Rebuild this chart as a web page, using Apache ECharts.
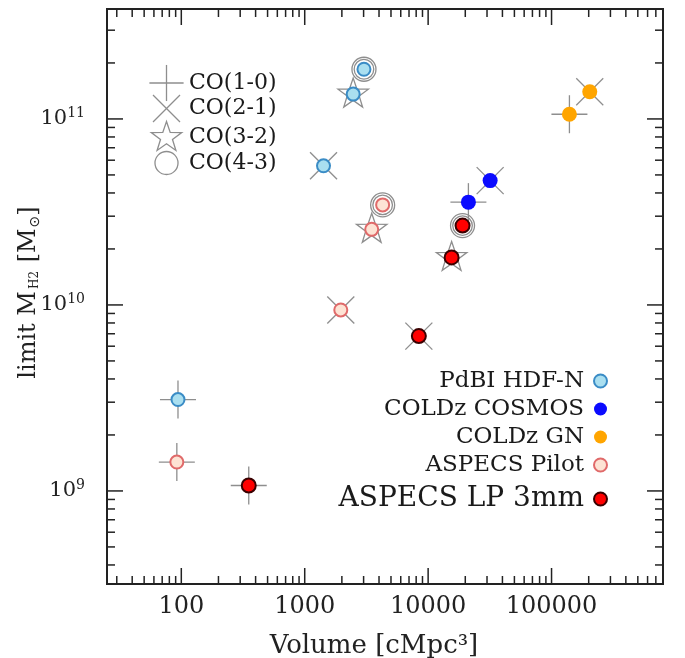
<!DOCTYPE html>
<html>
<head>
<meta charset="utf-8">
<script src="https://cdn.jsdelivr.net/npm/echarts@6/dist/echarts.min.js"></script>
<style>html,body{margin:0;padding:0;background:#fff;}#c{width:685px;height:658px;}</style>
</head>
<body>
<div id="c"></div>
<script>
// ---------- data ----------
const transitions = ['CO(1-0)', 'CO(2-1)', 'CO(3-2)', 'CO(4-3)'];

const pdbiVol   = [94, 1420, 2470, 3020];
const pdbiMass  = [3.1e9, 5.6e10, 1.36e11, 1.85e11];
const pdbiLine  = [0, 1, 2, 3];

const cosmosVol  = [21200, 31800];
const cosmosMass = [3.57e10, 4.66e10];
const cosmosLine = [0, 1];

const gnVol  = [139600, 204000];
const gnMass = [1.06e11, 1.40e11];
const gnLine = [0, 1];

const pilotVol  = [92, 1960, 3490, 4280];
const pilotMass = [1.43e9, 9.4e9, 2.55e10, 3.45e10];
const pilotLine = [0, 1, 2, 3];

const lpVol  = [352, 8410, 15500, 19000];
const lpMass = [1.07e9, 6.8e9, 1.80e10, 2.67e10];
const lpLine = [0, 1, 2, 3];

const surveyNames = ['PdBI HDF-N', 'COLDz COSMOS', 'COLDz GN', 'ASPECS Pilot', 'ASPECS LP 3mm'];

const xMin = 25, xMax = 8e5;
const yMin = 3.16e8, yMax = 3.9e11;
const xMajorTicks = [100, 1000, 10000, 100000];
const yMajorTicks = [1e9, 1e10, 1e11];

// ---------- helpers ----------
const FONT = 'DejaVu Serif';
const GRAY = '#8e8e8e';
function zip(v, m) { return v.map((x, i) => [x, m[i]]); }
function zip3(v, m, t) { return v.map((x, i) => [x, m[i], t[i]]); }
function minorTicks(lo, hi) {
  const out = [];
  for (let e = Math.floor(Math.log10(lo)); e <= Math.ceil(Math.log10(hi)); e++) {
    for (let k = 2; k <= 9; k++) {
      const v = k * Math.pow(10, e);
      if (v > lo && v < hi) out.push(v);
    }
  }
  return out;
}
function isPow10(v) {
  const e = Math.log10(v);
  return Math.abs(e - Math.round(e)) < 1e-6;
}
function starPoints(R, r) {
  const pts = [];
  for (let i = 0; i < 10; i++) {
    const rad = (i % 2 === 0) ? R : r;
    const a = -Math.PI / 2 + i * Math.PI / 5;
    pts.push([rad * Math.cos(a), rad * Math.sin(a)]);
  }
  return pts;
}
function symbolShapes(t, scale, rings) {
  const st = { stroke: GRAY, lineWidth: 1.3, fill: 'none' };
  if (t === 0) {
    const h = 18 * scale, v = 19 * scale;
    return [
      { type: 'line', shape: { x1: -h, y1: 0, x2: h, y2: 0 }, style: st },
      { type: 'line', shape: { x1: 0, y1: -v, x2: 0, y2: v }, style: st }
    ];
  }
  if (t === 1) {
    const d = 13.5 * scale;
    return [
      { type: 'line', shape: { x1: -d, y1: -d, x2: d, y2: d }, style: st },
      { type: 'line', shape: { x1: -d, y1: d, x2: d, y2: -d }, style: st }
    ];
  }
  if (t === 2) {
    return [{ type: 'polygon', shape: { points: starPoints(16 * scale, 6.3 * scale) }, style: st }];
  }
  const out = [{ type: 'circle', shape: { cx: 0, cy: 0, r: 12 * scale }, style: st }];
  if (rings) out.push({ type: 'circle', shape: { cx: 0, cy: 0, r: 9.8 * scale }, style: st });
  return out;
}

const allSymbols = [].concat(
  zip3(pdbiVol, pdbiMass, pdbiLine),
  zip3(cosmosVol, cosmosMass, cosmosLine),
  zip3(gnVol, gnMass, gnLine),
  zip3(pilotVol, pilotMass, pilotLine),
  zip3(lpVol, lpMass, lpLine)
);

const chart = echarts.init(document.getElementById('c'), null, { renderer: 'canvas' });

const TICK = '#222';
const option = {
  animation: false,
  backgroundColor: '#fff',
  grid: { left: 107, right: 22, top: 9, bottom: 74, outerBoundsMode: 'none', containLabel: false,
          show: true, borderColor: '#222', borderWidth: 2, backgroundColor: 'transparent' },
  xAxis: {
    type: 'log', logBase: 10, min: xMin, max: xMax,
    axisLine: { show: false }, axisTick: { show: false }, splitLine: { show: false },
    axisLabel: {
      margin: 11, fontFamily: FONT, fontSize: 24, color: '#222',
      formatter: v => isPow10(v) ? String(Math.round(v)) : ''
    },
    name: 'Volume [cMpc³]', nameLocation: 'middle', nameGap: 49, nameMoveOverlap: false,
    nameTextStyle: { fontFamily: FONT, fontSize: 26, color: '#222', padding: [0, 22, 0, 0] }
  },
  yAxis: {
    type: 'log', logBase: 10, min: yMin, max: yMax,
    axisLine: { show: false }, axisTick: { show: false }, splitLine: { show: false },
    axisLabel: {
      margin: 22, color: '#222',
      formatter: v => isPow10(v) ? '{b|10}{s|' + Math.round(Math.log10(v)) + '}' : '',
      rich: {
        b: { fontFamily: FONT, fontSize: 21, lineHeight: 26, color: '#222' },
        s: { fontFamily: FONT, fontSize: 14, lineHeight: 14, verticalAlign: 'top', color: '#222' }
      }
    },
    name: 'limit M{sub|H2} [M{sub2|⊙}]', nameLocation: 'middle', nameRotate: 90, nameGap: 64,
    nameMoveOverlap: false,
    nameTextStyle: {
      fontFamily: FONT, fontSize: 24, lineHeight: 28, color: '#222', padding: [0, 0, 0, 8],
      rich: {
        sub: { fontFamily: FONT, fontSize: 12, lineHeight: 12, verticalAlign: 'bottom', color: '#222', padding: [0, 1, 2, 2] },
        sub2: { fontFamily: 'DejaVu Sans', fontSize: 14, lineHeight: 14, verticalAlign: 'bottom', color: '#222', padding: [0, 0, 1, 1] }
      }
    }
  },
  legend: {
    orient: 'vertical', right: 77, top: 369, align: 'right', padding: 0,
    itemWidth: 13, itemHeight: 13, itemGap: 4, selectedMode: false, icon: 'circle',
    textStyle: { fontFamily: FONT, fontSize: 23, lineHeight: 24, color: '#1a1a1a', padding: [0, 5, 0, 0] },
    data: [
      { name: surveyNames[0] },
      { name: surveyNames[1] },
      { name: surveyNames[2] },
      { name: surveyNames[3] },
      { name: surveyNames[4], textStyle: { fontSize: 28, lineHeight: 36 } }
    ]
  },
  graphic: (function () {
    const els = [];
    const rowsY = [83, 108.5, 137.5, 163];
    transitions.forEach((t, i) => {
      els.push({
        type: 'group', x: 166.5, y: rowsY[i], silent: true,
        children: symbolShapes(i, i === 0 ? 0.95 : (i === 3 ? 0.96 : 1.0), false)
      });
      els.push({
        type: 'text', x: 189, y: rowsY[i], silent: true,
        style: { text: t, fontFamily: FONT, fontSize: 22, fill: '#1a1a1a', textVerticalAlign: 'middle', textAlign: 'left' }
      });
    });
    return els;
  })(),
  series: [
    {
      type: 'custom', name: 'xticks', silent: true, z: 1,
      data: xMajorTicks.map(v => [v, yMin, 1]).concat(minorTicks(xMin, xMax).map(v => [v, yMin, 0])),
      renderItem: function (params, api) {
        const cs = params.coordSys;
        const x = api.coord([api.value(0), yMin])[0];
        const len = api.value(2) ? 16 : 8;
        const st = { stroke: TICK, lineWidth: 1.5 };
        return { type: 'group', children: [
          { type: 'line', shape: { x1: x, y1: cs.y + cs.height, x2: x, y2: cs.y + cs.height - len }, style: st },
          { type: 'line', shape: { x1: x, y1: cs.y, x2: x, y2: cs.y + len }, style: st }
        ] };
      }
    },
    {
      type: 'custom', name: 'yticks', silent: true, z: 1,
      data: yMajorTicks.map(v => [xMin, v, 1]).concat(minorTicks(yMin, yMax).map(v => [xMin, v, 0])),
      renderItem: function (params, api) {
        const cs = params.coordSys;
        const y = api.coord([xMin, api.value(1)])[1];
        const len = api.value(2) ? 16 : 8;
        const st = { stroke: TICK, lineWidth: 1.5 };
        return { type: 'group', children: [
          { type: 'line', shape: { x1: cs.x, y1: y, x2: cs.x + len, y2: y }, style: st },
          { type: 'line', shape: { x1: cs.x + cs.width, y1: y, x2: cs.x + cs.width - len, y2: y }, style: st }
        ] };
      }
    },
    {
      type: 'custom', name: 'transitions', silent: true, z: 2,
      data: allSymbols,
      renderItem: function (params, api) {
        const p = api.coord([api.value(0), api.value(1)]);
        return { type: 'group', x: p[0], y: p[1], children: symbolShapes(api.value(2), 1, true) };
      }
    },
    {
      type: 'scatter', name: surveyNames[0], z: 3, data: zip(pdbiVol, pdbiMass), symbol: 'circle', symbolSize: 13,
      itemStyle: { color: '#aadff0', borderColor: '#3a8cc6', borderWidth: 2, opacity: 1 }, emphasis: { disabled: true }
    },
    {
      type: 'scatter', name: surveyNames[1], z: 3, data: zip(cosmosVol, cosmosMass), symbol: 'circle', symbolSize: 15,
      itemStyle: { color: '#0b0bff', borderColor: '#0b0bff', borderWidth: 0, opacity: 1 }, emphasis: { disabled: true }
    },
    {
      type: 'scatter', name: surveyNames[2], z: 3, data: zip(gnVol, gnMass), symbol: 'circle', symbolSize: 15,
      itemStyle: { color: '#ffa500', borderColor: '#ffa500', borderWidth: 0, opacity: 1 }, emphasis: { disabled: true }
    },
    {
      type: 'scatter', name: surveyNames[3], z: 3, data: zip(pilotVol, pilotMass), symbol: 'circle', symbolSize: 13,
      itemStyle: { color: '#fde3d4', borderColor: '#e06a6a', borderWidth: 2, opacity: 1 }, emphasis: { disabled: true }
    },
    {
      type: 'scatter', name: surveyNames[4], z: 3, data: zip(lpVol, lpMass), symbol: 'circle', symbolSize: 14,
      itemStyle: { color: '#ff0000', borderColor: '#3a0000', borderWidth: 2, opacity: 1 }, emphasis: { disabled: true }
    }
  ]
};
chart.setOption(option);
</script>
</body>
</html>
